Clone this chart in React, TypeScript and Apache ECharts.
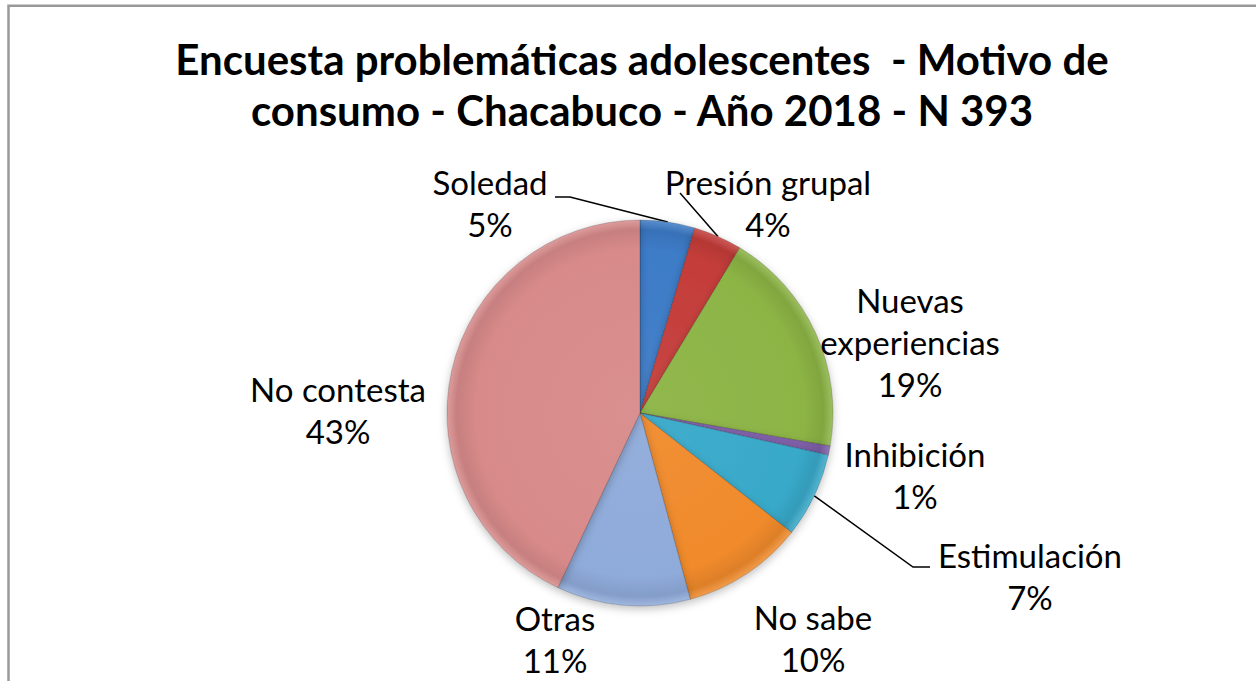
import React, { useEffect, useRef } from "react";
import * as echarts from "echarts";

const titleLines = [
  "Encuesta problemáticas adolescentes  - Motivo de",
  "consumo - Chacabuco - Año 2018 - N 393",
];
const categories = [
  "Soledad",
  "Presión grupal",
  "Nuevas experiencias",
  "Inhibición",
  "Estimulación",
  "No sabe",
  "Otras",
  "No contesta",
];
const labelTexts = [
  "Soledad",
  "Presión grupal",
  "Nuevas\nexperiencias",
  "Inhibición",
  "Estimulación",
  "No sabe",
  "Otras",
  "No contesta",
];
const counts = [18, 16, 75, 3, 28, 40, 44, 169];
const showLeader = [true, true, false, false, true, false, false, false];

// styling / layout (not data)
const baseColors = [
  "#3D7BC7",
  "#C43D3A",
  "#8CB445",
  "#7E5FA8",
  "#38A9C9",
  "#F08A2B",
  "#8FABDA",
  "#D88A8A",
];
const labelAnchors: [number, number][] = [
  [490, 203],
  [768, 203],
  [910, 342],
  [915, 475],
  [1030, 576],
  [813, 638],
  [555, 639],
  [338, 410],
];
// leader-line bend / end offsets relative to the label anchor
const leaderOffsets: Record<number, [number, number][]> = {
  0: [
    [80, -6],
    [65, -6],
  ],
  1: [
    [-88, -10],
    [-88, -10],
  ],
  4: [
    [-117, -9],
    [-100, -9],
  ],
};
const CX = 640;
const CY = 413;
const R = 193;

function shade(hex: string, amt: number): string {
  const n = parseInt(hex.slice(1), 16);
  let r = (n >> 16) & 255,
    g = (n >> 8) & 255,
    b = n & 255;
  const f = (c: number) =>
    Math.max(0, Math.min(255, Math.round(amt >= 0 ? c + (255 - c) * amt : c * (1 + amt))));
  r = f(r);
  g = f(g);
  b = f(b);
  return "rgb(" + r + "," + g + "," + b + ")";
}

export default function App() {
  const ref = useRef<HTMLDivElement>(null);
  useEffect(() => {
    if (!ref.current) return;
    const chart = echarts.init(ref.current, null, { renderer: "svg" });
    const total = counts.reduce((a, b) => a + b, 0);
    const data = categories.map((name, i) => ({
      name,
      value: counts[i],
      itemStyle: {
        color: {
          type: "radial",
          x: CX,
          y: CY,
          r: R,
          global: true,
          colorStops: [
            { offset: 0, color: shade(baseColors[i], 0.05) },
            { offset: 0.85, color: baseColors[i] },
            { offset: 0.95, color: shade(baseColors[i], -0.08) },
            { offset: 1, color: shade(baseColors[i], 0.15) },
          ],
        },
      },
      labelLine: { show: showLeader[i] },
    }));
    chart.setOption({
      animation: false,
      backgroundColor: "#ffffff",
      title: {
        text: titleLines.join("\n"),
        left: 637,
        textAlign: "center",
        top: 28,
        textStyle: {
          fontFamily: "Lato",
          fontWeight: "bold",
          fontSize: 42,
          lineHeight: 51,
          color: "#000000",
        },
      },
      graphic: [
        {
          type: "rect",
          shape: { x: 8.5, y: 5.8, width: 1400, height: 900 },
          style: { fill: "none", stroke: "#999999", lineWidth: 2.5 },
          silent: true,
        },
      ],
      series: [
        {
          type: "pie",
          center: [CX, CY],
          radius: [0, R],
          startAngle: 90,
          clockwise: true,
          data,
          itemStyle: {
            borderColor: "rgba(0,0,0,0.18)",
            borderWidth: 1,
            shadowBlur: 8,
            shadowColor: "rgba(0,0,0,0.25)",
            shadowOffsetY: 3,
          },
          label: {
            show: true,
            position: "outside",
            fontFamily: "Lato",
            fontSize: 33,
            lineHeight: 42,
            color: "#000000",
            align: "center",
            formatter: (p: any) =>
              labelTexts[p.dataIndex] + "\n" + Math.round((p.value / total) * 100) + "%",
          },
          labelLine: {
            show: false,
            length: 20,
            length2: 15,
            lineStyle: { color: "#000000", width: 1.5 },
          },
          labelLayout: (params: any) => {
            const i = params.dataIndex;
            const a = labelAnchors[i];
            const out: any = { x: a[0], y: a[1], align: "center", verticalAlign: "middle" };
            const offs = leaderOffsets[i];
            if (offs && params.labelLinePoints && params.labelLinePoints[0]) {
              const start = params.labelLinePoints[0];
              out.labelLinePoints = [
                [start[0], start[1]],
                [a[0] + offs[0][0], a[1] + offs[0][1]],
                [a[0] + offs[1][0], a[1] + offs[1][1]],
              ];
            }
            return out;
          },
        },
      ],
    });
    return () => chart.dispose();
  }, []);
  return (
    <div
      ref={ref}
      style={{ position: "absolute", left: 0, top: 0, width: 1256, height: 681 }}
    />
  );
}
